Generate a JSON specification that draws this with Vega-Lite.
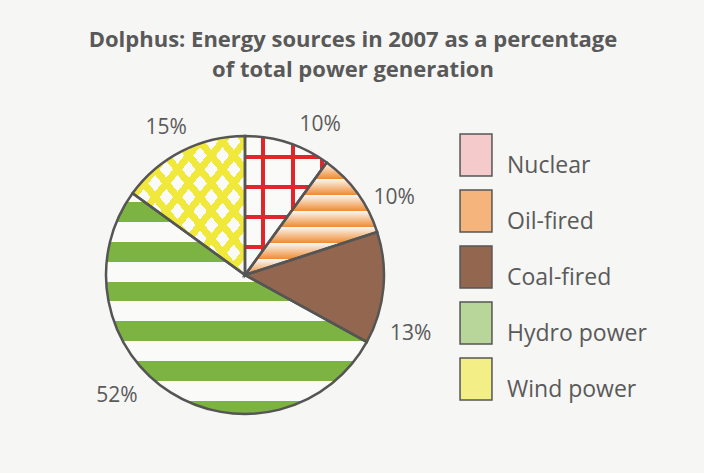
{
  "$schema": "https://vega.github.io/schema/vega-lite/v6.json",
  "width": 480,
  "height": 340,
  "autosize": {"type": "none"},
  "padding": {"left": 5, "top": 105, "right": 219, "bottom": 28},
  "background": "#f6f6f4",
  "config": {"view": {"stroke": null}},
  "title": {
    "text": ["Dolphus: Energy sources in 2007 as a percentage", "of total power generation"],
    "font": "Open Sans",
    "fontSize": 22,
    "fontWeight": "bold",
    "color": "#595959",
    "lineHeight": 30,
    "anchor": "middle",
    "dx": 108,
    "offset": 10
  },
  "data": {
    "values": [
      {"source": "Nuclear", "value": 10, "order": 1, "label": "10%"},
      {"source": "Oil-fired", "value": 10, "order": 2, "label": "10%"},
      {"source": "Coal-fired", "value": 13, "order": 3, "label": "13%"},
      {"source": "Hydro power", "value": 52, "order": 4, "label": "52%"},
      {"source": "Wind power", "value": 15, "order": 5, "label": "15%"}
    ]
  },
  "transform": [
    {"stack": "value", "groupby": [], "sort": [{"field": "order", "order": "ascending"}], "as": ["v0", "v1"]}
  ],
  "layer": [
    {
      "mark": {"type": "arc", "radius": 139},
      "encoding": {
        "theta": {"field": "v0", "type": "quantitative", "scale": {"domain": [0, 100]}},
        "theta2": {"field": "v1"},
        "fill": {
          "field": "source",
          "type": "nominal",
          "scale": {
            "domain": ["Nuclear", "Oil-fired", "Coal-fired", "Hydro power", "Wind power"],
            "range": ["#f4cbca", "#f4b47c", "#93674f", "#b9d69a", "#f4ee86"]
          },
          "legend": {
            "title": null,
            "orient": "none",
            "legendX": 449,
            "legendY": 28,
            "padding": 0,
            "symbolType": "M-0.76,-1H0.76V1H-0.76Z",
            "symbolSize": 1764,
            "symbolStrokeColor": "#555555",
            "symbolStrokeWidth": 1.5,
            "labelFont": "Open Sans",
            "labelFontSize": 23,
            "labelColor": "#5a5a5a",
            "labelOffset": 9,
            "labelBaseline": "top",
            "labelLimit": 300,
            "rowPadding": 8
          }
        }
      }
    },
    {
      "mark": {"type": "arc", "radius": 139},
      "encoding": {
        "theta": {"field": "v0", "type": "quantitative"},
        "theta2": {"field": "v1"},
        "fill": {
          "condition": [
            {"test": "datum.source == 'Nuclear'", "value": "#fafaf8"},
            {"test": "datum.source == 'Oil-fired'", "value": "#f08c33"},
            {"test": "datum.source == 'Coal-fired'", "value": "#93674f"},
            {"test": "datum.source == 'Hydro power'", "value": "#7cb342"}
          ],
          "value": "#f1e83c"
        }
      }
    },
    {
      "transform": [{"filter": "datum.source == 'Nuclear'"}],
      "mark": {"type": "arc", "radius": 139, "fill": {"gradient": "linear", "x1": 0, "y1": 0, "x2": 1, "y2": 0, "stops": [
        {"offset": 0, "color": "rgba(227,38,43,0)"}, {"offset": 0.195, "color": "rgba(227,38,43,0)"},
        {"offset": 0.195, "color": "#e3262b"}, {"offset": 0.245, "color": "#e3262b"},
        {"offset": 0.245, "color": "rgba(227,38,43,0)"}, {"offset": 0.56, "color": "rgba(227,38,43,0)"},
        {"offset": 0.56, "color": "#e3262b"}, {"offset": 0.61, "color": "#e3262b"},
        {"offset": 0.61, "color": "rgba(227,38,43,0)"}, {"offset": 0.915, "color": "rgba(227,38,43,0)"},
        {"offset": 0.915, "color": "#e3262b"}, {"offset": 0.965, "color": "#e3262b"},
        {"offset": 0.965, "color": "rgba(227,38,43,0)"}, {"offset": 1, "color": "rgba(227,38,43,0)"}
      ]}},
      "encoding": {
        "theta": {"field": "v0", "type": "quantitative"},
        "theta2": {"field": "v1"}
      }
    },
    {
      "transform": [{"filter": "datum.source == 'Nuclear'"}],
      "mark": {"type": "arc", "radius": 139, "fill": {"gradient": "linear", "x1": 0, "y1": 0, "x2": 0, "y2": 1, "stops": [
        {"offset": 0, "color": "rgba(227,38,43,0)"}, {"offset": 0.137, "color": "rgba(227,38,43,0)"},
        {"offset": 0.137, "color": "#e3262b"}, {"offset": 0.166, "color": "#e3262b"},
        {"offset": 0.166, "color": "rgba(227,38,43,0)"}, {"offset": 0.353, "color": "rgba(227,38,43,0)"},
        {"offset": 0.353, "color": "#e3262b"}, {"offset": 0.382, "color": "#e3262b"},
        {"offset": 0.382, "color": "rgba(227,38,43,0)"}, {"offset": 0.569, "color": "rgba(227,38,43,0)"},
        {"offset": 0.569, "color": "#e3262b"}, {"offset": 0.598, "color": "#e3262b"},
        {"offset": 0.598, "color": "rgba(227,38,43,0)"}, {"offset": 0.785, "color": "rgba(227,38,43,0)"},
        {"offset": 0.785, "color": "#e3262b"}, {"offset": 0.814, "color": "#e3262b"},
        {"offset": 0.814, "color": "rgba(227,38,43,0)"}, {"offset": 1, "color": "rgba(227,38,43,0)"}
      ]}},
      "encoding": {
        "theta": {"field": "v0", "type": "quantitative"},
        "theta2": {"field": "v1"}
      }
    },
    {
      "transform": [{"filter": "datum.source == 'Oil-fired'"}],
      "mark": {"type": "arc", "radius": 139, "fill": {"gradient": "linear", "x1": 0, "y1": 0, "x2": 0, "y2": 1, "stops": [
        {"offset": 0, "color": "#fafaf8"}, {"offset": 0.143, "color": "rgba(250,250,248,0)"},
        {"offset": 0.143, "color": "#fafaf8"}, {"offset": 0.286, "color": "rgba(250,250,248,0)"},
        {"offset": 0.286, "color": "#fafaf8"}, {"offset": 0.429, "color": "rgba(250,250,248,0)"},
        {"offset": 0.429, "color": "#fafaf8"}, {"offset": 0.571, "color": "rgba(250,250,248,0)"},
        {"offset": 0.571, "color": "#fafaf8"}, {"offset": 0.714, "color": "rgba(250,250,248,0)"},
        {"offset": 0.714, "color": "#fafaf8"}, {"offset": 0.857, "color": "rgba(250,250,248,0)"},
        {"offset": 0.857, "color": "#fafaf8"}, {"offset": 1, "color": "rgba(250,250,248,0)"}
      ]}},
      "encoding": {
        "theta": {"field": "v0", "type": "quantitative"},
        "theta2": {"field": "v1"}
      }
    },
    {
      "transform": [{"filter": "datum.source == 'Hydro power'"}],
      "mark": {"type": "arc", "radius": 139, "fill": {"gradient": "linear", "x1": 0, "y1": 0, "x2": 0, "y2": 1, "stops": [
        {"offset": 0, "color": "#fafaf8"}, {"offset": 0.04, "color": "#fafaf8"},
        {"offset": 0.04, "color": "rgba(250,250,248,0)"}, {"offset": 0.13, "color": "rgba(250,250,248,0)"},
        {"offset": 0.13, "color": "#fafaf8"}, {"offset": 0.22, "color": "#fafaf8"},
        {"offset": 0.22, "color": "rgba(250,250,248,0)"}, {"offset": 0.31, "color": "rgba(250,250,248,0)"},
        {"offset": 0.31, "color": "#fafaf8"}, {"offset": 0.40, "color": "#fafaf8"},
        {"offset": 0.40, "color": "rgba(250,250,248,0)"}, {"offset": 0.49, "color": "rgba(250,250,248,0)"},
        {"offset": 0.49, "color": "#fafaf8"}, {"offset": 0.58, "color": "#fafaf8"},
        {"offset": 0.58, "color": "rgba(250,250,248,0)"}, {"offset": 0.67, "color": "rgba(250,250,248,0)"},
        {"offset": 0.67, "color": "#fafaf8"}, {"offset": 0.76, "color": "#fafaf8"},
        {"offset": 0.76, "color": "rgba(250,250,248,0)"}, {"offset": 0.85, "color": "rgba(250,250,248,0)"},
        {"offset": 0.85, "color": "#fafaf8"}, {"offset": 0.94, "color": "#fafaf8"},
        {"offset": 0.94, "color": "rgba(250,250,248,0)"}, {"offset": 1, "color": "rgba(250,250,248,0)"}
      ]}},
      "encoding": {
        "theta": {"field": "v0", "type": "quantitative"},
        "theta2": {"field": "v1"}
      }
    },
    {
      "transform": [{"filter": "datum.source == 'Wind power'"}],
      "mark": {"type": "arc", "radius": 139, "fill": {"gradient": "linear", "x1": 0, "y1": 0, "x2": 1, "y2": 1, "stops": [
        {"offset": 0, "color": "rgba(250,250,248,0)"}, {"offset": 0.04, "color": "rgba(250,250,248,0)"}, {"offset": 0.04, "color": "#fafaf8"}, {"offset": 0.1, "color": "#fafaf8"},
        {"offset": 0.1, "color": "rgba(250,250,248,0)"}, {"offset": 0.14, "color": "rgba(250,250,248,0)"}, {"offset": 0.14, "color": "#fafaf8"}, {"offset": 0.2, "color": "#fafaf8"},
        {"offset": 0.2, "color": "rgba(250,250,248,0)"}, {"offset": 0.24, "color": "rgba(250,250,248,0)"}, {"offset": 0.24, "color": "#fafaf8"}, {"offset": 0.3, "color": "#fafaf8"},
        {"offset": 0.3, "color": "rgba(250,250,248,0)"}, {"offset": 0.34, "color": "rgba(250,250,248,0)"}, {"offset": 0.34, "color": "#fafaf8"}, {"offset": 0.4, "color": "#fafaf8"},
        {"offset": 0.4, "color": "rgba(250,250,248,0)"}, {"offset": 0.44, "color": "rgba(250,250,248,0)"}, {"offset": 0.44, "color": "#fafaf8"}, {"offset": 0.5, "color": "#fafaf8"},
        {"offset": 0.5, "color": "rgba(250,250,248,0)"}, {"offset": 0.54, "color": "rgba(250,250,248,0)"}, {"offset": 0.54, "color": "#fafaf8"}, {"offset": 0.6, "color": "#fafaf8"},
        {"offset": 0.6, "color": "rgba(250,250,248,0)"}, {"offset": 0.64, "color": "rgba(250,250,248,0)"}, {"offset": 0.64, "color": "#fafaf8"}, {"offset": 0.7, "color": "#fafaf8"},
        {"offset": 0.7, "color": "rgba(250,250,248,0)"}, {"offset": 0.74, "color": "rgba(250,250,248,0)"}, {"offset": 0.74, "color": "#fafaf8"}, {"offset": 0.8, "color": "#fafaf8"},
        {"offset": 0.8, "color": "rgba(250,250,248,0)"}, {"offset": 0.84, "color": "rgba(250,250,248,0)"}, {"offset": 0.84, "color": "#fafaf8"}, {"offset": 0.9, "color": "#fafaf8"},
        {"offset": 0.9, "color": "rgba(250,250,248,0)"}, {"offset": 0.94, "color": "rgba(250,250,248,0)"}, {"offset": 0.94, "color": "#fafaf8"}, {"offset": 1, "color": "#fafaf8"}
      ]}},
      "encoding": {
        "theta": {"field": "v0", "type": "quantitative"},
        "theta2": {"field": "v1"}
      }
    },
    {
      "transform": [{"filter": "datum.source == 'Wind power'"}],
      "mark": {"type": "arc", "radius": 139, "fill": {"gradient": "linear", "x1": 1, "y1": 0, "x2": 0, "y2": 1, "stops": [
        {"offset": 0, "color": "#f1e83c"}, {"offset": 0.04, "color": "#f1e83c"}, {"offset": 0.04, "color": "rgba(241,232,60,0)"}, {"offset": 0.1, "color": "rgba(241,232,60,0)"},
        {"offset": 0.1, "color": "#f1e83c"}, {"offset": 0.14, "color": "#f1e83c"}, {"offset": 0.14, "color": "rgba(241,232,60,0)"}, {"offset": 0.2, "color": "rgba(241,232,60,0)"},
        {"offset": 0.2, "color": "#f1e83c"}, {"offset": 0.24, "color": "#f1e83c"}, {"offset": 0.24, "color": "rgba(241,232,60,0)"}, {"offset": 0.3, "color": "rgba(241,232,60,0)"},
        {"offset": 0.3, "color": "#f1e83c"}, {"offset": 0.34, "color": "#f1e83c"}, {"offset": 0.34, "color": "rgba(241,232,60,0)"}, {"offset": 0.4, "color": "rgba(241,232,60,0)"},
        {"offset": 0.4, "color": "#f1e83c"}, {"offset": 0.44, "color": "#f1e83c"}, {"offset": 0.44, "color": "rgba(241,232,60,0)"}, {"offset": 0.5, "color": "rgba(241,232,60,0)"},
        {"offset": 0.5, "color": "#f1e83c"}, {"offset": 0.54, "color": "#f1e83c"}, {"offset": 0.54, "color": "rgba(241,232,60,0)"}, {"offset": 0.6, "color": "rgba(241,232,60,0)"},
        {"offset": 0.6, "color": "#f1e83c"}, {"offset": 0.64, "color": "#f1e83c"}, {"offset": 0.64, "color": "rgba(241,232,60,0)"}, {"offset": 0.7, "color": "rgba(241,232,60,0)"},
        {"offset": 0.7, "color": "#f1e83c"}, {"offset": 0.74, "color": "#f1e83c"}, {"offset": 0.74, "color": "rgba(241,232,60,0)"}, {"offset": 0.8, "color": "rgba(241,232,60,0)"},
        {"offset": 0.8, "color": "#f1e83c"}, {"offset": 0.84, "color": "#f1e83c"}, {"offset": 0.84, "color": "rgba(241,232,60,0)"}, {"offset": 0.9, "color": "rgba(241,232,60,0)"},
        {"offset": 0.9, "color": "#f1e83c"}, {"offset": 0.94, "color": "#f1e83c"}, {"offset": 0.94, "color": "rgba(241,232,60,0)"}, {"offset": 1, "color": "rgba(241,232,60,0)"}
      ]}},
      "encoding": {
        "theta": {"field": "v0", "type": "quantitative"},
        "theta2": {"field": "v1"}
      }
    },
    {
      "mark": {"type": "arc", "radius": 139, "fillOpacity": 0, "stroke": "#555555", "strokeWidth": 2.5},
      "encoding": {
        "theta": {"field": "v0", "type": "quantitative"},
        "theta2": {"field": "v1"}
      }
    },
    {
      "mark": {"type": "text", "radius": 168, "thetaOffset": 0.15, "font": "Open Sans", "fontSize": 21, "fill": "#5a5a5a"},
      "encoding": {
        "theta": {"field": "value", "type": "quantitative", "stack": true},
        "order": {"field": "order", "type": "quantitative"},
        "text": {"field": "label"},
        "opacity": {"condition": {"test": "datum.source == 'Nuclear' || datum.source == 'Oil-fired'", "value": 1}, "value": 0}
      }
    },
    {
      "mark": {"type": "text", "radius": 176, "thetaOffset": 0.25, "font": "Open Sans", "fontSize": 21, "fill": "#5a5a5a"},
      "encoding": {
        "theta": {"field": "value", "type": "quantitative", "stack": true},
        "order": {"field": "order", "type": "quantitative"},
        "text": {"field": "label"},
        "opacity": {"condition": {"test": "datum.source == 'Coal-fired' || datum.source == 'Hydro power'", "value": 1}, "value": 0}
      }
    },
    {
      "mark": {"type": "text", "radius": 167, "thetaOffset": -0.02, "font": "Open Sans", "fontSize": 21, "fill": "#5a5a5a"},
      "encoding": {
        "theta": {"field": "value", "type": "quantitative", "stack": true},
        "order": {"field": "order", "type": "quantitative"},
        "text": {"field": "label"},
        "opacity": {"condition": {"test": "datum.source == 'Wind power'", "value": 1}, "value": 0}
      }
    }
  ]
}
